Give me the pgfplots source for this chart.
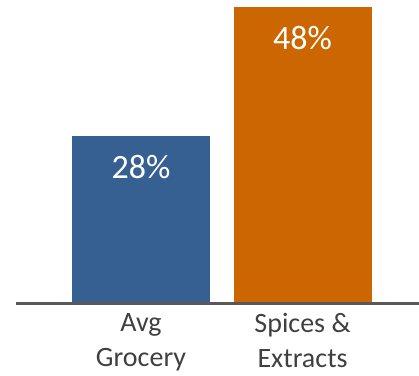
\documentclass[border=0pt]{standalone}
\usepackage{pgfplots}
\pgfplotsset{compat=1.18}
\usepackage{fontspec}
\setmainfont{Carlito}
\definecolor{barblue}{HTML}{376092}
\definecolor{barorange}{HTML}{CC6600}
\definecolor{txt}{HTML}{404040}
\definecolor{axisgray}{HTML}{595959}
\begin{document}
\begin{tikzpicture}
\path[use as bounding box] (-16pt,-72pt) rectangle (403pt,303pt);
\begin{axis}[
  scale only axis, width=403pt, height=296pt,
  xmin=-0.774, xmax=1.721, ymin=2, ymax=48,
  axis x line=bottom, axis y line=none,
  x axis line style={-, draw=axisgray, line width=3pt},
  axis on top,
  xtick={0,1}, xticklabels={Avg\\Grocery, Spices \&\\Extracts},
  xticklabel style={align=center, font=\fontsize{28}{35}\selectfont, text=txt, yshift=-7pt},
  major tick length=0pt,
  ybar, bar width=138pt,
  nodes near coords, point meta=explicit symbolic,
  every node near coord/.append style={anchor=center, yshift=-31pt, text=white, font=\fontsize{34}{34}\selectfont},
]
\addplot[fill=barblue, draw=none, bar shift=0pt] coordinates {(0,28) [28\%]};
\addplot[fill=barorange, draw=none, bar shift=0pt] coordinates {(1,48) [48\%]};
\end{axis}
\end{tikzpicture}
\end{document}
